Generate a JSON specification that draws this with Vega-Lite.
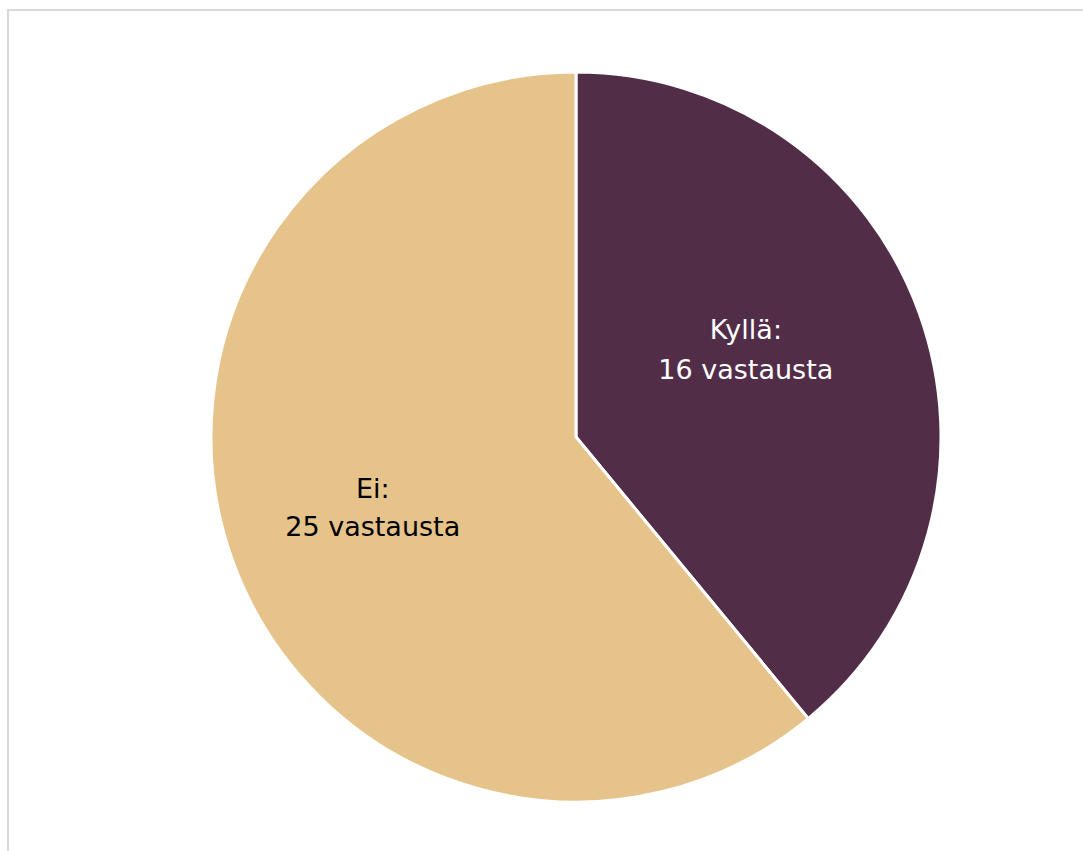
{
  "$schema": "https://vega.github.io/schema/vega-lite/v6.json",
  "description": "Kyllä / Ei pie chart",
  "autosize": "none",
  "padding": {"left": 8, "top": 10, "right": 0, "bottom": 0},
  "width": 1136,
  "height": 854,
  "background": "white",
  "data": {
    "values": [
      {"answer": "Kyllä", "count": 16, "rank": 1, "label": ["Kyllä:", "16 vastausta"]},
      {"answer": "Ei", "count": 25, "rank": 2, "label": ["Ei:", "25 vastausta"]}
    ]
  },
  "layer": [
    {
      "data": {"values": [{}]},
      "mark": {"type": "rect", "fill": null, "stroke": "#D9D9D9", "strokeWidth": 2}
    },
    {
      "mark": {"type": "arc", "outerRadius": 365, "stroke": "white", "strokeWidth": 3},
      "encoding": {
        "theta": {"field": "count", "type": "quantitative", "stack": true},
        "order": {"field": "rank", "type": "quantitative"},
        "color": {
          "field": "answer",
          "type": "nominal",
          "scale": {"domain": ["Kyllä", "Ei"], "range": ["#522D48", "#E5C38A"]},
          "legend": null
        }
      }
    },
    {
      "mark": {"type": "text", "radius": 190, "dx": -9, "dy": -42, "font": "DejaVu Sans", "fontSize": 27, "lineHeight": 40, "color": "white", "align": "center", "baseline": "middle"},
      "encoding": {
        "theta": {"field": "count", "type": "quantitative", "stack": true},
        "order": {"field": "rank", "type": "quantitative"},
        "text": {"condition": {"test": "datum.answer === 'Kyllä'", "field": "label"}, "value": ""}
      }
    },
    {
      "mark": {"type": "text", "radius": 216, "dy": -20, "font": "DejaVu Sans", "fontSize": 27, "lineHeight": 38, "color": "black", "align": "center", "baseline": "middle"},
      "encoding": {
        "theta": {"field": "count", "type": "quantitative", "stack": true},
        "order": {"field": "rank", "type": "quantitative"},
        "text": {"condition": {"test": "datum.answer === 'Ei'", "field": "label"}, "value": ""}
      }
    }
  ],
  "config": {
    "view": {"stroke": null}
  }
}
